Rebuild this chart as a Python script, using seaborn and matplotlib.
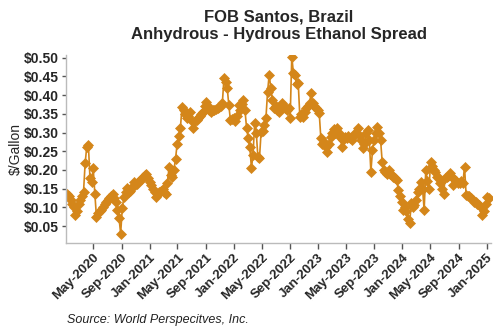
import matplotlib
matplotlib.use("Agg")
import matplotlib.pyplot as plt
import matplotlib.dates as mdates
import numpy as np
import pandas as pd
import seaborn as sns

sns.set_theme(style="white")
plt.rcParams['font.family'] = ['Liberation Sans', 'DejaVu Sans']

start_date = "2020-01-10"
spread = [
    0.137, 0.13, 0.12, 0.11, 0.10, 0.08, 0.09, 0.11, 0.12, 0.13,
    0.142, 0.218, 0.262, 0.267, 0.178, 0.168, 0.204, 0.137, 0.075, 0.085,
    0.09, 0.093, 0.10, 0.11, 0.115, 0.12, 0.125, 0.13, 0.137, 0.125,
    0.115, 0.093, 0.071, 0.030, 0.097, 0.128, 0.14, 0.151, 0.14, 0.145,
    0.155, 0.168, 0.16, 0.163, 0.168, 0.172, 0.175, 0.18, 0.186, 0.19,
    0.178, 0.168, 0.16, 0.15, 0.14, 0.128, 0.135, 0.14, 0.145, 0.15,
    0.14, 0.137, 0.165, 0.209, 0.186, 0.18, 0.20, 0.23, 0.27, 0.29,
    0.312, 0.368, 0.36, 0.35, 0.34, 0.345, 0.356, 0.33, 0.312, 0.33,
    0.333, 0.34, 0.345, 0.35, 0.355, 0.37, 0.382, 0.37, 0.36, 0.355,
    0.36, 0.36, 0.362, 0.365, 0.369, 0.37, 0.38, 0.445, 0.435, 0.42,
    0.373, 0.333, 0.335, 0.339, 0.33, 0.345, 0.373, 0.36, 0.375, 0.387,
    0.36, 0.312, 0.285, 0.262, 0.205, 0.24, 0.325, 0.30, 0.235, 0.232,
    0.302, 0.305, 0.32, 0.339, 0.409, 0.454, 0.42, 0.387, 0.366, 0.37,
    0.36, 0.355, 0.37, 0.379, 0.37, 0.366, 0.36, 0.366, 0.339, 0.503,
    0.46, 0.454, 0.43, 0.432, 0.342, 0.35, 0.342, 0.355, 0.365, 0.37,
    0.38, 0.405, 0.379, 0.37, 0.366, 0.36, 0.352, 0.285, 0.27, 0.275,
    0.26, 0.249, 0.27, 0.289, 0.30, 0.31, 0.30, 0.312, 0.30, 0.289,
    0.262, 0.28, 0.289, 0.285, 0.29, 0.285, 0.28, 0.29, 0.30, 0.30,
    0.311, 0.29, 0.28, 0.258, 0.27, 0.30, 0.307, 0.28, 0.195, 0.253,
    0.28, 0.30, 0.316, 0.30, 0.28, 0.222, 0.20, 0.195, 0.19, 0.20,
    0.19, 0.186, 0.18, 0.178, 0.173, 0.146, 0.13, 0.115, 0.093, 0.102,
    0.09, 0.07, 0.057, 0.111, 0.10, 0.106, 0.12, 0.142, 0.15, 0.168,
    0.15, 0.093, 0.20, 0.17, 0.15, 0.222, 0.21, 0.20, 0.195, 0.18,
    0.178, 0.165, 0.15, 0.137, 0.178, 0.18, 0.185, 0.191, 0.182, 0.16,
    0.173, 0.17, 0.165, 0.165, 0.17, 0.165, 0.209, 0.133, 0.13, 0.13,
    0.124, 0.12, 0.115, 0.115, 0.11, 0.105, 0.102, 0.08, 0.09, 0.11,
    0.128, 0.124,
]
dates = pd.date_range(start_date, periods=len(spread), freq="7D")
df = pd.DataFrame({"date": dates, "spread": spread})

y_ticks = [0.05, 0.10, 0.15, 0.20, 0.25, 0.30, 0.35, 0.40, 0.45, 0.50]
x_ticks = pd.date_range("2020-05-01", "2025-01-01", freq="4MS")

color = "#D4861A"
fig = plt.figure(figsize=(5, 3.3), dpi=100)
ax = fig.add_axes([0.132, 0.264, 0.851, 0.569])
sns.lineplot(data=df, x="date", y="spread", ax=ax, color=color, lw=1.2,
             marker="D", markersize=5.5, markeredgecolor=color, markeredgewidth=0.5)

ax.set_xlim(pd.Timestamp("2020-01-04"), pd.Timestamp("2025-01-22"))
ax.set_ylim(0.005, 0.507)
ax.set_yticks(y_ticks)
ax.set_yticklabels([f"${v:.2f}" for v in y_ticks], fontsize=10, fontweight="bold")
ax.set_xticks(x_ticks)
ax.set_xticklabels([d.strftime("%b-%Y") for d in x_ticks], rotation=45,
                   ha="right", rotation_mode="anchor", fontsize=9.5, fontweight="bold")
ax.set_xlabel("")
ax.set_ylabel("$/Gallon", fontsize=10, labelpad=1)

for s in ["top", "right"]:
    ax.spines[s].set_visible(False)
for s in ["left", "bottom"]:
    ax.spines[s].set_color("#BBBBBB")
    ax.spines[s].set_linewidth(1)
ax.tick_params(axis="both", which="both", direction="out", length=3, width=1,
               color="#555555", pad=2)
ax.tick_params(axis="x", length=4)
ax.tick_params(left=True, bottom=True)

fig.text(0.558, 0.97, "FOB Santos, Brazil\nAnhydrous - Hydrous Ethanol Spread",
         ha="center", va="top", fontsize=12, fontweight="bold", linespacing=1.15)
fig.text(0.134, 0.022, "Source: World Perspecitves, Inc.", fontsize=9, style="italic",
         ha="left", va="baseline", color="#222222")

fig.savefig("out.png", dpi=100)
